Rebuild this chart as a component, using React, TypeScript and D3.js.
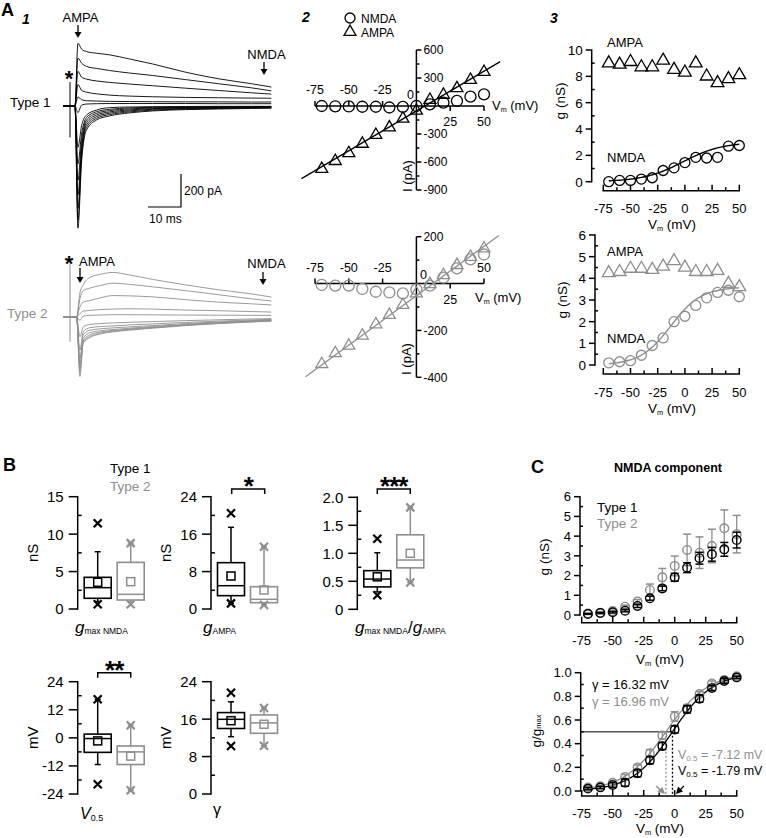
import React from 'react';
import * as d3 from 'd3';

const FONT = "'Liberation Sans', Arial, Helvetica, sans-serif";
const INK = '#000000';
const GRAY = '#8e8e8e';

// ===== Panel A1: example traces (pA) vs time (ms after stimulus) =====
const TRACE_TIME_TYPE1 = [-2, 1.5, 2.4, 3.5, 5, 8, 12, 18, 25, 35, 45, 55, 61];
const TRACES_TYPE1 = [
  [0, 0, 380, 345, 330, 320, 310, 285, 255, 205, 165, 135, 115],
  [0, 0, 290, 260, 240, 228, 215, 200, 185, 160, 135, 110, 92],
  [0, 0, 210, 175, 163, 152, 143, 133, 123, 108, 94, 80, 72],
  [0, 0, 130, 95, 84, 74, 66, 60, 56, 52, 50, 48, 47],
  [0, 0, 55, 38, 32, 30, 28, 27, 26, 25, 25, 24, 24],
  [0, 0, -40, 5, 12, 14, 15, 15, 15, 15, 14, 14, 14],
  [0, 0, -250, -120, -55, -25, -10, -6, -4, -3, -2, -2, -2],
  [0, 0, -350, -170, -70, -35, -20, -12, -8, -6, -5, -4, -4],
  [0, 0, -450, -210, -85, -45, -28, -18, -12, -9, -7, -6, -5],
  [0, 0, -540, -250, -100, -55, -36, -24, -16, -12, -9, -8, -7],
  [0, 0, -620, -280, -115, -65, -44, -30, -20, -15, -12, -10, -9],
  [0, 0, -690, -310, -130, -75, -52, -36, -25, -18, -15, -12, -11],
  [0, 0, -740, -340, -145, -85, -60, -42, -30, -22, -18, -15, -13],
];
const TRACE_TIME_TYPE2 = [-2, 2, 3, 4, 6, 9, 13, 18, 25, 35, 45, 55, 61];
const TRACES_TYPE2 = [
  [0, 0, 145, 195, 240, 258, 270, 255, 228, 195, 165, 140, 121],
  [0, 0, 110, 160, 175, 190, 205, 198, 183, 160, 135, 110, 97],
  [0, 0, 60, 90, 100, 115, 130, 128, 122, 105, 90, 80, 73],
  [0, 0, 20, 35, 40, 45, 48, 50, 48, 42, 38, 33, 30],
  [0, 0, -20, 5, 10, 12, 14, 14, 13, 12, 11, 10, 10],
  [0, 0, -120, -60, -45, -40, -36, -32, -28, -22, -17, -12, -10],
  [0, 0, -200, -90, -65, -58, -54, -48, -42, -33, -25, -18, -14],
  [0, 0, -250, -110, -80, -72, -66, -60, -52, -40, -30, -22, -17],
  [0, 0, -280, -130, -95, -84, -76, -68, -58, -45, -34, -25, -20],
  [0, 0, -310, -145, -108, -92, -82, -73, -62, -48, -36, -27, -22],
  [0, 0, -335, -150, -118, -98, -86, -76, -65, -50, -38, -29, -24],
  [0, 0, -360, -160, -125, -104, -90, -80, -68, -52, -40, -30, -25],
];
const ARTIFACT_TYPE1 = [145, -190];
const ARTIFACT_TYPE2 = [325, -150];
const SCALE_BAR_PA = 200;
const SCALE_BAR_MS = 10;

// ===== Panel A2: I-V =====
const VM = [-70, -60, -50, -40, -30, -20, -10, 0, 10, 20, 30, 40, 50];
const I_NMDA_TYPE1 = [0, -3, -5, -8, -8, -16, -10, 0, 18, 36, 54, 100, 125];
const I_AMPA_TYPE1 = [-675, -590, -505, -405, -310, -230, -135, -50, 65, 120, 190, 280, 365];
const I_NMDA_TYPE2 = [-6, -9, -9, -23, -35, -38, -42, -25, -9, 25, 65, 103, 124];
const I_AMPA_TYPE2 = [-344, -297, -265, -222, -174, -134, -91, -42, -3, 36, 79, 114, 150];
const AMPA_FIT_TYPE1 = [8.53, -53, -85, 62]; // slope, intercept, from, to
const AMPA_FIT_TYPE2 = [4.22, -52, -82, 61];
const IV_TICKS_X = [-75, -50, -25, 25, 50];
const IV_TICKS_Y1 = [600, 300, 0, -300, -600, -900];
const IV_MINOR_Y1 = [450, 150, -150, -450, -750];
const IV_TICKS_Y2 = [200, 0, -200, -400];
const IV_MINOR_Y2 = [100, -100, -300];

// ===== Panel A3: conductances =====
const G_AMPA_TYPE1 = [9.0, 8.9, 9.1, 8.7, 8.7, 9.2, 8.5, 8.3, 9.0, 8.0, 7.5, 7.8, 8.1];
const G_NMDA_TYPE1 = [0.0, 0.1, 0.1, 0.2, 0.3, 0.85, 1.05, 1.45, 1.85, 1.8, 1.85, 2.7, 2.75];
const G_AMPA_TYPE2 = [4.25, 4.3, 4.45, 4.45, 4.4, 4.55, 4.8, 4.5, 4.3, 4.3, 4.35, 3.75, 3.6];
const G_NMDA_TYPE2 = [0.1, 0.15, 0.2, 0.45, 0.9, 1.25, 2.0, 2.25, 2.75, 3.1, 3.35, 3.45, 3.15];
const BOLTZ_A3_TYPE1 = [3.0, -2, 18]; // gmax, V0.5, slope
const BOLTZ_A3_TYPE2 = [3.6, -13, 14];
const VM_TICKS = [-75, -50, -25, 0, 25, 50];
const VM_MINOR = [-62.5, -37.5, -12.5, 12.5, 37.5];

// ===== Panel B: box plots [min, whiskerLow, q1, median, q3, whiskerHigh, max, mean] =====
const GROUPS = ['Type 1', 'Type 2'];
const BOX_GMAX_NMDA = [[0.63, 1.0, 1.43, 2.85, 4.23, 7.65, 11.45, 3.57], [0.63, 0.9, 1.2, 1.96, 6.23, 8.8, 8.8, 3.65]];
const BOX_G_AMPA = [[1.2, 1.2, 2.85, 4.98, 9.9, 17.46, 20.45, 7.05], [0.85, 0.85, 1.35, 2.07, 4.77, 13.3, 13.3, 4.06]];
const BOX_RATIO = [[0.25, 0.31, 0.40, 0.54, 0.69, 1.01, 1.26, 0.58], [0.48, 0.48, 0.74, 0.88, 1.33, 1.82, 1.82, 1.0]];
const BOX_V05 = [[-19.8, -11.4, -6.2, -0.3, 1.6, 16.5, 16.5, -1.3], [-22.4, -22.4, -11.4, -6.0, -3.5, 5.4, 5.4, -7.8]];
const BOX_GAMMA = [[10.26, 12.25, 14.0, 15.96, 17.4, 19.7, 21.65, 15.67], [10.3, 10.3, 12.97, 15.2, 16.9, 18.4, 18.4, 14.9]];

// ===== Panel C: NMDA component (mean ± SE) =====
const C_G_TYPE1 = [0.05, 0.1, 0.14, 0.22, 0.46, 0.85, 1.35, 1.91, 2.4, 2.88, 3.08, 3.33, 3.8];
const C_G_SE_TYPE1 = [0.02, 0.03, 0.04, 0.06, 0.08, 0.1, 0.12, 0.2, 0.25, 0.3, 0.35, 0.35, 0.4];
const C_G_TYPE2 = [0.08, 0.12, 0.2, 0.42, 0.68, 1.27, 1.91, 2.49, 3.3, 3.16, 3.5, 4.4, 4.1];
const C_G_SE_TYPE2 = [0.03, 0.04, 0.05, 0.08, 0.1, 0.3, 0.45, 0.5, 0.8, 0.8, 0.85, 0.93, 0.95];
const C_NORM_TYPE1 = [0.02, 0.03, 0.05, 0.07, 0.15, 0.26, 0.38, 0.52, 0.69, 0.78, 0.87, 0.93, 0.96];
const C_NORM_SE_TYPE1 = [0.01, 0.01, 0.02, 0.03, 0.03, 0.03, 0.03, 0.03, 0.03, 0.03, 0.02, 0.02, 0.01];
const C_NORM_TYPE2 = [0.03, 0.04, 0.07, 0.12, 0.2, 0.32, 0.47, 0.63, 0.7, 0.82, 0.91, 0.94, 0.97];
const C_NORM_SE_TYPE2 = [0.01, 0.01, 0.02, 0.02, 0.02, 0.03, 0.03, 0.04, 0.03, 0.02, 0.02, 0.02, 0.01];
const FIT_C_TYPE1 = [-1.79, 16.32]; // V0.5, gamma
const FIT_C_TYPE2 = [-7.12, 16.96];

// ---------- helpers ----------
const boltz = (v, gmax, vh, k) => gmax / (1 + Math.exp((vh - v) / k));
const VM_FINE = d3.range(-70, 50.01, 1);

function Arrow({ x, y1, y2, color = INK }) {
  return (
    <g>
      <line x1={x} x2={x} y1={y1} y2={y2 - 5} stroke={color} strokeWidth={1.3} />
      <path d={`M${x - 3.5},${y2 - 6}L${x + 3.5},${y2 - 6}L${x},${y2}Z`} fill={color} />
    </g>
  );
}

function Vm({ x, y, fs = 13, anchor = 'middle', unit = ' (mV)', color = INK }) {
  return (
    <text x={x} y={y} fontSize={fs} textAnchor={anchor} fill={color}>
      V<tspan fontSize={fs * 0.55} dy={fs * 0.18}>m</tspan>
      <tspan dy={-fs * 0.18}>{unit}</tspan>
    </text>
  );
}

function RotLabel({ x, y, fs, children }) {
  return (
    <text transform={`translate(${x},${y}) rotate(-90)`} textAnchor="middle" fontSize={fs}>
      {children}
    </text>
  );
}

function YAxis({ scale, x, majors, minors = [], fmt = (v) => String(v), fs = 13, majorLen = 6, minorLen = 3, gap = 3, sw = 1.5 }) {
  const dom = scale.domain();
  return (
    <g>
      <line x1={x} x2={x} y1={scale(dom[0]) + sw / 2} y2={scale(dom[1]) - sw / 2} stroke={INK} strokeWidth={sw} />
      {majors.map((v) => (
        <line key={'M' + v} x1={x} x2={x - majorLen} y1={scale(v)} y2={scale(v)} stroke={INK} strokeWidth={sw} />
      ))}
      {minors.map((v) => (
        <line key={'m' + v} x1={x} x2={x + minorLen} y1={scale(v)} y2={scale(v)} stroke={INK} strokeWidth={sw} />
      ))}
      {majors.map((v) => (
        <text key={'t' + v} x={x - majorLen - gap} y={scale(v)} dy="0.36em" textAnchor="end" fontSize={fs}>
          {fmt(v)}
        </text>
      ))}
    </g>
  );
}

function XAxisUp({ scale, y, majors, minors = [], fs = 13, labelY, majorLen = 6, minorLen = 3.5, sw = 1.5 }) {
  const dom = scale.domain();
  return (
    <g>
      <line x1={scale(dom[0]) - sw / 2} x2={scale(dom[1]) + sw / 2} y1={y} y2={y} stroke={INK} strokeWidth={sw} />
      {majors.map((v) => (
        <line key={'M' + v} x1={scale(v)} x2={scale(v)} y1={y} y2={y - majorLen} stroke={INK} strokeWidth={sw} />
      ))}
      {minors.map((v) => (
        <line key={'m' + v} x1={scale(v)} x2={scale(v)} y1={y} y2={y - minorLen} stroke={INK} strokeWidth={sw} />
      ))}
      {majors.map((v) => (
        <text key={'t' + v} x={scale(v)} y={labelY} textAnchor="middle" fontSize={fs}>
          {v}
        </text>
      ))}
    </g>
  );
}

const triPath = d3.symbol().type(d3.symbolTriangle).size(62)();

function Circles({ xs, ys, x, y, r, color }) {
  return (
    <g>
      {xs.map((v, i) => (
        <circle key={i} cx={x(v)} cy={y(ys[i])} r={r} fill="none" stroke={color} strokeWidth={1.3} />
      ))}
    </g>
  );
}
function Triangles({ xs, ys, x, y, color, size = 62 }) {
  const p = d3.symbol().type(d3.symbolTriangle).size(size)();
  return (
    <g>
      {xs.map((v, i) => (
        <path key={i} d={p} transform={`translate(${x(v)},${y(ys[i])})`} fill="none" stroke={color} strokeWidth={1.3} />
      ))}
    </g>
  );
}

// ---------- Panel A1 ----------
function TraceSet({ time, traces, baseY, color, artifact }) {
  const x = d3.scaleLinear().domain([0, 10]).range([70, 103]);
  const y = d3.scaleLinear().domain([0, 200]).range([baseY, baseY - 33]);
  const line = d3
    .line()
    .x((_, i) => x(time[i]))
    .y((d) => y(d))
    .curve(d3.curveMonotoneX);
  return (
    <g>
      {traces.map((tr, i) => (
        <path key={i} d={line(tr)} fill="none" stroke={color} strokeWidth={0.9} />
      ))}
      <line x1={x(0)} x2={x(0)} y1={y(artifact[0])} y2={y(artifact[1])} stroke={color} strokeWidth={1} />
    </g>
  );
}

function PanelA1() {
  const xs = d3.scaleLinear().domain([0, 10]).range([0, 33]);
  const ys = d3.scaleLinear().domain([0, 200]).range([0, 33]);
  const bx = 181;
  const by = 207;
  return (
    <g>
      <text x={1} y={16} fontSize={18} fontWeight="bold">A</text>
      <text x={22} y={24} fontSize={14} fontWeight="bold" fontStyle="italic">1</text>
      <text x={80.5} y={22} fontSize={13} textAnchor="middle">AMPA</text>
      <Arrow x={78} y1={25} y2={38} />
      <text x={266.5} y={59} fontSize={13} textAnchor="middle">NMDA</text>
      <Arrow x={264} y1={62} y2={75} />
      <text x={69} y={86} fontSize={22} fontWeight="bold" textAnchor="middle">*</text>
      <text x={10} y={107} fontSize={13.5}>Type 1</text>
      <TraceSet time={TRACE_TIME_TYPE1} traces={TRACES_TYPE1} baseY={106} color={INK} artifact={ARTIFACT_TYPE1} />
      <path d={`M${bx - xs(SCALE_BAR_MS)},${by}H${bx}V${by - ys(SCALE_BAR_PA)}`} fill="none" stroke={INK} strokeWidth={1.2} />
      <text x={bx + 3} y={by - 12} fontSize={12}>{SCALE_BAR_PA} pA</text>
      <text x={bx - 32} y={by + 16} fontSize={12}>{SCALE_BAR_MS} ms</text>

      <text x={69} y={271} fontSize={22} fontWeight="bold" textAnchor="middle">*</text>
      <text x={79} y={266} fontSize={13}>AMPA</text>
      <Arrow x={80} y1={268} y2={283} />
      <text x={266.5} y={268} fontSize={13} textAnchor="middle">NMDA</text>
      <Arrow x={263} y1={272} y2={285} />
      <text x={7} y={318} fontSize={13.5} fill={GRAY}>Type 2</text>
      <TraceSet time={TRACE_TIME_TYPE2} traces={TRACES_TYPE2} baseY={317} color={GRAY} artifact={ARTIFACT_TYPE2} />
    </g>
  );
}

// ---------- Panel A2 ----------
function IVPlot({ y, iN, iA, fit, color, ticksY, minorY, labelsAbove, zeroLabel, vmLabel, ylab }) {
  const x = d3.scaleLinear().domain([-75, 50]).range([315, 484]);
  const x0 = x(0);
  const y0 = y(0);
  const dom = y.domain();
  return (
    <g>
      <line x1={x0} x2={x0} y1={y(dom[0])} y2={y(dom[1])} stroke={INK} strokeWidth={1.5} />
      {ticksY.filter((v) => v !== 0).map((v) => (
        <g key={v}>
          <line x1={x0} x2={x0 + 5} y1={y(v)} y2={y(v)} stroke={INK} strokeWidth={1.5} />
          <text x={x0 + 7} y={y(v)} dy="0.36em" fontSize={12}>{v}</text>
        </g>
      ))}
      {minorY.map((v) => (
        <line key={v} x1={x0} x2={x0 + 3} y1={y(v)} y2={y(v)} stroke={INK} strokeWidth={1.5} />
      ))}
      <line x1={x(-75)} x2={x(50)} y1={y0} y2={y0} stroke={INK} strokeWidth={1.5} />
      {IV_TICKS_X.map((v) => {
        const up = labelsAbove.includes(v);
        return (
          <g key={v}>
            <line x1={x(v)} x2={x(v)} y1={y0} y2={up ? y0 - 5 : y0 + 5} stroke={INK} strokeWidth={1.5} />
            <text x={x(v)} y={up ? y0 - 12 : y0 + 20} textAnchor="middle" fontSize={12.5}>{v}</text>
          </g>
        );
      })}
      <text x={zeroLabel[0]} y={zeroLabel[1]} textAnchor={zeroLabel[2]} fontSize={12.5}>0</text>
      <Vm x={vmLabel[0]} y={vmLabel[1]} fs={13} anchor="start" />
      <RotLabel x={ylab[0]} y={ylab[1]} fs={13}>I (pA)</RotLabel>
      <line x1={x(fit[2])} x2={x(fit[3])} y1={y(fit[0] * fit[2] + fit[1])} y2={y(fit[0] * fit[3] + fit[1])} stroke={color} strokeWidth={1.3} />
      <Triangles xs={VM} ys={iA} x={x} y={y} color={color} />
      <Circles xs={VM} ys={iN} x={x} y={y} r={5.5} color={color} />
    </g>
  );
}

function PanelA2() {
  const yT = d3.scaleLinear().domain([-900, 600]).range([190, 50]);
  const yB = d3.scaleLinear().domain([-400, 200]).range([377.3, 236.7]);
  return (
    <g>
      <text x={302} y={22} fontSize={14} fontWeight="bold" fontStyle="italic">2</text>
      <circle cx={350} cy={18} r={5} fill="none" stroke={INK} strokeWidth={1.3} />
      <text x={361} y={22.5} fontSize={12}>NMDA</text>
      <path d={triPath} transform="translate(350,32)" fill="none" stroke={INK} strokeWidth={1.3} />
      <text x={361} y={36.5} fontSize={12}>AMPA</text>
      <IVPlot y={yT} iN={I_NMDA_TYPE1} iA={I_AMPA_TYPE1} fit={AMPA_FIT_TYPE1} color={INK} ticksY={IV_TICKS_Y1} minorY={IV_MINOR_Y1}
        labelsAbove={[-75, -50, -25]} zeroLabel={[414, 99, 'end']} vmLabel={[492, 110]} ylab={[412, 176]} />
      <IVPlot y={yB} iN={I_NMDA_TYPE2} iA={I_AMPA_TYPE2} fit={AMPA_FIT_TYPE2} color={GRAY} ticksY={IV_TICKS_Y2} minorY={IV_MINOR_Y2}
        labelsAbove={[-75, -50, -25, 50]} zeroLabel={[420, 279, 'start']} vmLabel={[475, 302]} ylab={[411, 359]} />
    </g>
  );
}

// ---------- Panel A3 ----------
function GPlot({ y, axisX, axisY, yMajors, yMinors, gA, gN, fit, color, tickLabelY, vmY, ylab, ampaY, nmdaY }) {
  const x = d3.scaleLinear().domain([-75, 50]).range([603.3, 739.3]);
  const line = d3
    .line()
    .x((v) => x(v))
    .y((v) => y(boltz(v, fit[0], fit[1], fit[2])));
  return (
    <g>
      <YAxis scale={y} x={axisX} majors={yMajors} minors={yMinors} fs={13.5} />
      <XAxisUp scale={x} y={axisY} majors={VM_TICKS} minors={VM_MINOR} labelY={tickLabelY} fs={13} />
      <Vm x={672} y={vmY} fs={13.5} />
      <RotLabel x={ylab[0]} y={ylab[1]} fs={13.5}>g (nS)</RotLabel>
      <text x={607} y={ampaY} fontSize={13}>AMPA</text>
      <text x={607} y={nmdaY} fontSize={13}>NMDA</text>
      <path d={line(VM_FINE)} fill="none" stroke={color} strokeWidth={1.4} />
      <Triangles xs={VM} ys={gA} x={x} y={y} color={color} size={70} />
      <Circles xs={VM} ys={gN} x={x} y={y} r={5} color={color} />
    </g>
  );
}

function PanelA3() {
  const yT = d3.scaleLinear().domain([0, 10]).range([181.7, 50]);
  const yB = d3.scaleLinear().domain([0, 6]).range([365, 235]);
  return (
    <g>
      <text x={550} y={23} fontSize={14} fontWeight="bold" fontStyle="italic">3</text>
      <GPlot y={yT} axisX={591.7} axisY={190.7} yMajors={[0, 2, 4, 6, 8, 10]} yMinors={[1, 3, 5, 7, 9]} gA={G_AMPA_TYPE1} gN={G_NMDA_TYPE1}
        fit={BOLTZ_A3_TYPE1} color={INK} tickLabelY={213} vmY={229} ylab={[565, 101]} ampaY={47} nmdaY={162} />
      <GPlot y={yB} axisX={595} axisY={374} yMajors={[0, 1, 2, 3, 4, 5, 6]} yMinors={[0.5, 1.5, 2.5, 3.5, 4.5, 5.5]} gA={G_AMPA_TYPE2} gN={G_NMDA_TYPE2}
        fit={BOLTZ_A3_TYPE2} color={GRAY} tickLabelY={397} vmY={413} ylab={[567, 300]} ampaY={256} nmdaY={343} />
    </g>
  );
}

// ---------- Panel B ----------
function XMark({ cx, cy, color }) {
  const s = 4;
  return (
    <path d={`M${cx - s},${cy - s}L${cx + s},${cy + s}M${cx - s},${cy + s}L${cx + s},${cy - s}`} stroke={color} strokeWidth={2.2} />
  );
}

function Box({ cx, st, y, color }) {
  const [mn, wlo, q1, med, q3, whi, mx, mean] = st;
  const hw = 13.5;
  const cap = 3;
  return (
    <g>
      <line x1={cx} x2={cx} y1={y(q3)} y2={y(whi)} stroke={color} strokeWidth={1.5} />
      <line x1={cx} x2={cx} y1={y(q1)} y2={y(wlo)} stroke={color} strokeWidth={1.5} />
      <line x1={cx - cap} x2={cx + cap} y1={y(whi)} y2={y(whi)} stroke={color} strokeWidth={1.5} />
      <line x1={cx - cap} x2={cx + cap} y1={y(wlo)} y2={y(wlo)} stroke={color} strokeWidth={1.5} />
      <rect x={cx - hw} y={y(q3)} width={2 * hw} height={y(q1) - y(q3)} fill="#fff" stroke={color} strokeWidth={1.6} />
      <line x1={cx - hw} x2={cx + hw} y1={y(med)} y2={y(med)} stroke={color} strokeWidth={1.5} />
      <rect x={cx - 4} y={y(mean) - 4} width={8} height={8} fill="none" stroke={color} strokeWidth={1.5} />
      <XMark cx={cx} cy={y(mn)} color={color} />
      <XMark cx={cx} cy={y(mx)} color={color} />
    </g>
  );
}

function BoxPanel({ data, axisX, y, majors, minors, ylabel, fmt }) {
  const xp = d3.scalePoint().domain(GROUPS).range([axisX + 20, axisX + 53]);
  return (
    <g>
      <YAxis scale={y} x={axisX} majors={majors} minors={minors} fs={15} majorLen={9} minorLen={4} gap={5} fmt={fmt} />
      <RotLabel x={axisX - 40} y={(y.range()[0] + y.range()[1]) / 2} fs={15}>{ylabel}</RotLabel>
      {GROUPS.map((g, i) => (
        <Box key={g} cx={xp(g)} st={data[i]} y={y} color={i === 0 ? INK : GRAY} />
      ))}
    </g>
  );
}

function Bracket({ x1, x2, y, stars }) {
  return (
    <g>
      <path d={`M${x1},${y + 5}V${y}H${x2}V${y + 5}`} fill="none" stroke={INK} strokeWidth={1.5} />
      <text x={(x1 + x2) / 2} y={y + 6} textAnchor="middle" fontSize={26} fontWeight="bold" letterSpacing={-1}>{stars}</text>
    </g>
  );
}

function PanelB() {
  const yTop15 = d3.scaleLinear().domain([0, 15]).range([609, 496.7]);
  const yTop24 = d3.scaleLinear().domain([0, 24]).range([609, 496.7]);
  const yTop2 = d3.scaleLinear().domain([0, 2]).range([609.3, 497.3]);
  const yV = d3.scaleLinear().domain([-24, 24]).range([794, 681.7]);
  const yG = d3.scaleLinear().domain([0, 24]).range([794, 681.7]);
  return (
    <g>
      <text x={3} y={471} fontSize={18} fontWeight="bold">B</text>
      <text x={110} y={473} fontSize={13.5}>Type 1</text>
      <text x={110} y={490.5} fontSize={13.5} fill={GRAY}>Type 2</text>
      <BoxPanel data={BOX_GMAX_NMDA} axisX={77.7} y={yTop15} majors={[0, 5, 10, 15]} minors={[2.5, 7.5, 12.5]} ylabel="nS" />
      <BoxPanel data={BOX_G_AMPA} axisX={211} y={yTop24} majors={[0, 8, 16, 24]} minors={[4, 12, 20]} ylabel="nS" />
      <BoxPanel data={BOX_RATIO} axisX={357.3} y={yTop2} majors={[0, 0.5, 1, 1.5, 2]} minors={[0.25, 0.75, 1.25, 1.75]} ylabel=""
        fmt={(v) => (v === 0 ? '0' : d3.format('.1f')(v))} />
      <BoxPanel data={BOX_V05} axisX={77.7} y={yV} majors={[-24, -12, 0, 12, 24]} minors={[-18, -6, 6, 18]} ylabel="mV" />
      <BoxPanel data={BOX_GAMMA} axisX={211} y={yG} majors={[0, 8, 16, 24]} minors={[4, 12, 20]} ylabel="mV" />
      <Bracket x1={231.7} x2={264.7} y={489} stars="*" />
      <Bracket x1={377.3} x2={410.3} y={489} stars="***" />
      <Bracket x1={97.7} x2={130.7} y={672.7} stars="**" />
      <text x={75} y={633} fontSize={17} fontStyle="italic">g<tspan fontSize={8.5} fontStyle="normal" dy={1}>max NMDA</tspan></text>
      <text x={203} y={633} fontSize={17} fontStyle="italic">g<tspan fontSize={8.5} fontStyle="normal" dy={1}>AMPA</tspan></text>
      <text x={355} y={633} fontSize={17} fontStyle="italic">
        g<tspan fontSize={8.5} fontStyle="normal" dy={1}>max NMDA</tspan>
        <tspan fontStyle="normal" dy={-1}>/</tspan>g<tspan fontSize={8.5} fontStyle="normal" dy={1}>AMPA</tspan>
      </text>
      <text x={80} y={819} fontSize={16} fontStyle="italic">V<tspan fontSize={9} fontStyle="normal" dy={2}>0.5</tspan></text>
      <text x={217} y={815} fontSize={16} textAnchor="middle">γ</text>
    </g>
  );
}

// ---------- Panel C ----------
function ErrPts({ x, y, m, se, color, r }) {
  return (
    <g>
      {VM.map((v, i) => (
        <g key={v}>
          <line x1={x(v)} x2={x(v)} y1={y(m[i] - se[i])} y2={y(m[i] + se[i])} stroke={color} strokeWidth={1.3} />
          <line x1={x(v) - 4} x2={x(v) + 4} y1={y(m[i] + se[i])} y2={y(m[i] + se[i])} stroke={color} strokeWidth={1.5} />
          <line x1={x(v) - 4} x2={x(v) + 4} y1={y(m[i] - se[i])} y2={y(m[i] - se[i])} stroke={color} strokeWidth={1.5} />
          <circle cx={x(v)} cy={y(m[i])} r={r} fill="none" stroke={color} strokeWidth={1.4} />
        </g>
      ))}
    </g>
  );
}

function PanelC() {
  const x = d3.scaleLinear().domain([-75, 50]).range([581.7, 736.7]);
  const yT = d3.scaleLinear().domain([0, 6]).range([615, 496.7]);
  const yB = d3.scaleLinear().domain([0, 1]).range([791, 672.7]);
  const fitLine = (p) =>
    d3
      .line()
      .x((v) => x(v))
      .y((v) => yB(boltz(v, 1, p[0], p[1])))(VM_FINE);
  const yHalf = yB(0.5);
  return (
    <g>
      <text x={531} y={473} fontSize={18} fontWeight="bold">C</text>
      <text x={668} y={472} fontSize={12.5} fontWeight="bold" textAnchor="middle">NMDA component</text>
      <YAxis scale={yT} x={580} majors={[0, 1, 2, 3, 4, 5, 6]} minors={[0.5, 1.5, 2.5, 3.5, 4.5, 5.5]} fs={13} />
      <XAxisUp scale={x} y={622.7} majors={VM_TICKS} minors={VM_MINOR} labelY={645} fs={13} />
      <Vm x={660} y={664} fs={13.5} />
      <RotLabel x={549} y={557} fs={13.5}>g (nS)</RotLabel>
      <text x={597} y={511.5} fontSize={13.5}>Type 1</text>
      <text x={597} y={528} fontSize={13.5} fill={GRAY}>Type 2</text>
      <ErrPts x={x} y={yT} m={C_G_TYPE2} se={C_G_SE_TYPE2} color={GRAY} r={4.3} />
      <ErrPts x={x} y={yT} m={C_G_TYPE1} se={C_G_SE_TYPE1} color={INK} r={4.3} />

      <YAxis scale={yB} x={580.7} majors={[0, 0.2, 0.4, 0.6, 0.8, 1]} minors={[0.1, 0.3, 0.5, 0.7, 0.9]} fs={13} fmt={(v) => d3.format('.1f')(v)} />
      <XAxisUp scale={x} y={796} majors={VM_TICKS} minors={VM_MINOR} labelY={818} fs={13} />
      <Vm x={660} y={833} fs={13.5} />
      <RotLabel x={541} y={731} fs={13.5}>
        g/g<tspan fontSize={7.5}>max</tspan>
      </RotLabel>
      <line x1={580.7} x2={x(FIT_C_TYPE1[0])} y1={yHalf} y2={yHalf} stroke={INK} strokeWidth={1} />
      <line x1={x(FIT_C_TYPE2[0])} x2={x(FIT_C_TYPE2[0])} y1={yHalf} y2={795} stroke={GRAY} strokeWidth={1.3} strokeDasharray="2,2" />
      <line x1={x(FIT_C_TYPE1[0])} x2={x(FIT_C_TYPE1[0])} y1={yHalf} y2={795} stroke={INK} strokeWidth={1.3} strokeDasharray="2,2" />
      <path d={fitLine(FIT_C_TYPE2)} fill="none" stroke={GRAY} strokeWidth={1.3} />
      <path d={fitLine(FIT_C_TYPE1)} fill="none" stroke={INK} strokeWidth={1.3} />
      <ErrPts x={x} y={yB} m={C_NORM_TYPE2} se={C_NORM_SE_TYPE2} color={GRAY} r={4.2} />
      <ErrPts x={x} y={yB} m={C_NORM_TYPE1} se={C_NORM_SE_TYPE1} color={INK} r={4.2} />
      <text x={592} y={688.5} fontSize={13}>γ = {FIT_C_TYPE1[1].toFixed(2)} mV</text>
      <text x={592} y={706} fontSize={13} fill={GRAY}>γ = {FIT_C_TYPE2[1].toFixed(2)} mV</text>
      <text x={678} y={759} fontSize={12.5} fill={GRAY}>V<tspan fontSize={8} dy={2}>0.5</tspan><tspan dy={-2}> = {FIT_C_TYPE2[0].toFixed(2)} mV</tspan></text>
      <text x={678} y={775} fontSize={12.5}>V<tspan fontSize={8} dy={2}>0.5</tspan><tspan dy={-2}> = {FIT_C_TYPE1[0].toFixed(2)} mV</tspan></text>
      <line x1={656} y1={786} x2={661} y2={790.5} stroke={GRAY} strokeWidth={1.3} />
      <path d="M665,794 L657.5,791.5 L662.5,787 Z" fill={GRAY} />
      <line x1={684} y1={786} x2={679.5} y2={790.5} stroke={INK} strokeWidth={1.3} />
      <path d="M676,794 L678,786.5 L683,791.5 Z" fill={INK} />
    </g>
  );
}

export default function App() {
  return (
    <svg width={766} height={838} viewBox="0 0 766 838" style={{ position: 'absolute', left: 0, top: 0, background: '#fff' }} fontFamily={FONT}>
      <rect width={766} height={838} fill="#fff" />
      <PanelA1 />
      <PanelA2 />
      <PanelA3 />
      <PanelB />
      <PanelC />
    </svg>
  );
}
